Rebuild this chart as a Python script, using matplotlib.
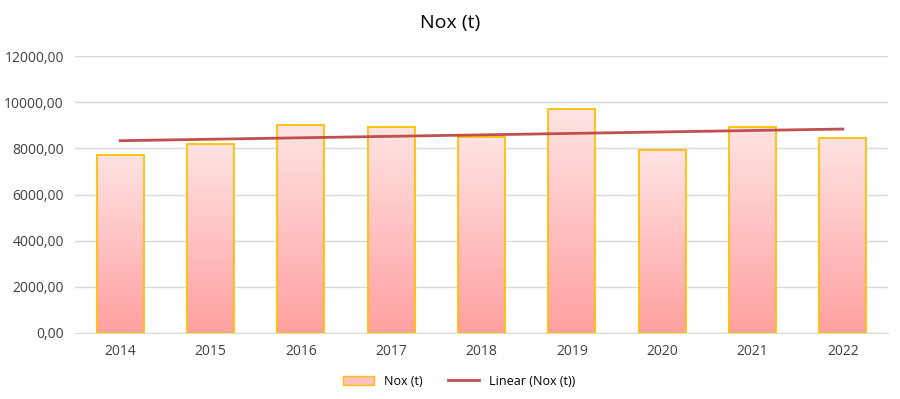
import numpy as np
import matplotlib
matplotlib.use('Agg')
import matplotlib.pyplot as plt
from matplotlib.colors import LinearSegmentedColormap
from matplotlib.patches import Patch
from matplotlib.lines import Line2D

years = ['2014', '2015', '2016', '2017', '2018', '2019', '2020', '2021', '2022']
nox = [7700, 8180, 9000, 8920, 8480, 9690, 7920, 8920, 8440]
yticks = [0, 2000, 4000, 6000, 8000, 10000, 12000]

plt.rcParams['font.family'] = ['Open Sans', 'DejaVu Sans']

fig = plt.figure(figsize=(9, 3.99), dpi=100)
ax = fig.add_axes([75 / 900, 1 - 333 / 399, 813 / 900, 277 / 399])

x = np.arange(len(years))
bars = ax.bar(x, nox, width=0.52, color='none', edgecolor='#FFC000', linewidth=1.3, zorder=3)

# vertical gradient inside each bar
cmap = LinearSegmentedColormap.from_list('pinkgrad', ['#FFA0A0', '#FFE3E3'])
grad = np.linspace(0, 1, 256).reshape(-1, 1)
for b in bars:
    bx, by = b.get_x(), b.get_y()
    w, h = b.get_width(), b.get_height()
    im = ax.imshow(grad, cmap=cmap, origin='lower', aspect='auto',
                   extent=[bx, bx + w, by, by + h], zorder=2)
    im.set_clip_path(b)

# linear trend
coef = np.polyfit(x, nox, 1)
ax.plot(x, np.polyval(coef, x), color='#C0504D', linewidth=2, zorder=4)

ax.set_xlim(-0.5, len(years) - 0.5)
ax.set_ylim(0, 12000)
ax.set_yticks(yticks)
ax.set_yticklabels([f'{v},00' for v in yticks])
ax.set_xticks(x)
ax.set_xticklabels(years)
ax.tick_params(axis='both', length=0, labelsize=10, colors='#404040', pad=8)
ax.grid(axis='y', color='#D9D9D9', linewidth=1, zorder=0)
for s in ['top', 'right', 'left']:
    ax.spines[s].set_visible(False)
ax.spines['bottom'].set_color('#D9D9D9')

fig.suptitle('Nox (t)', y=0.965, fontsize=14, color='#000000')

handles = [Patch(facecolor='#FFC0C0', edgecolor='#FFC000', label='Nox (t)'),
           Line2D([0], [0], color='#C0504D', linewidth=2, label='Linear (Nox (t))')]
fig.legend(handles=handles, loc='center', bbox_to_anchor=(0.51, 0.045), ncol=2,
           frameon=False, fontsize=9, handlelength=2.5, columnspacing=2)

fig.savefig('out.png', dpi=100)
